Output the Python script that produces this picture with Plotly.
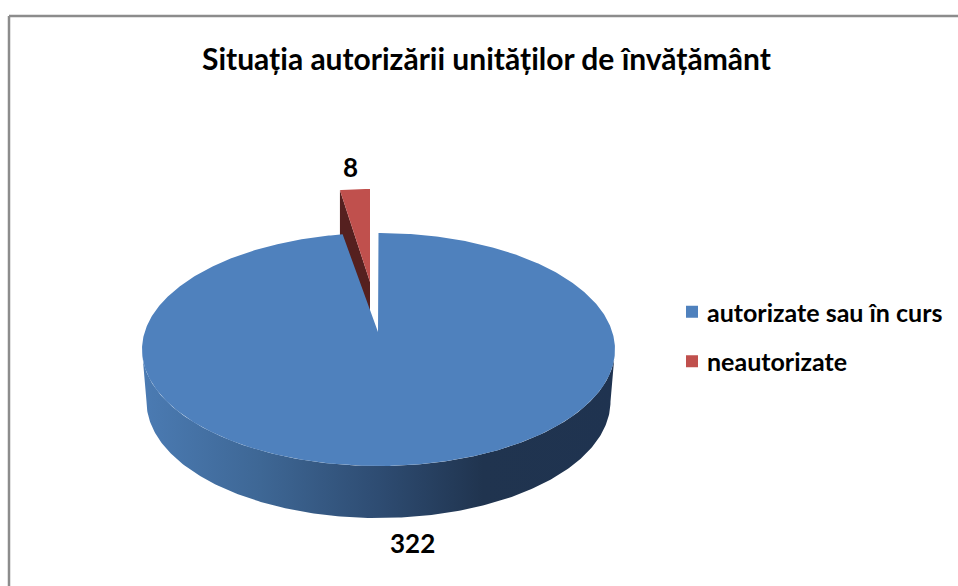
import numpy as np
import plotly.graph_objects as go

TITLE = "Situația autorizării unităților de învățământ"
categories = ["autorizate sau în curs", "neautorizate"]
values = [322, 8]
blue, red = "#4F81BD", "#C0504D"
FONT = "Lato"

W, H = 958, 586
total = sum(values)
sweep = [2 * np.pi * v / total for v in values]
blue_t = np.linspace(0, sweep[0], 720)
red_t = np.linspace(-sweep[1], 0, 20)
low_t = np.linspace(np.pi / 2, 3 * np.pi / 2, 240)


def ell(t, cx, cy, rx, ry):
    return cx + rx * np.sin(t), cy - ry * np.cos(t)


fig = go.Figure()
# blue side wall
tx, ty = ell(low_t, 378.5, 349.5, 236.5, 116.5)
bx, by = ell(low_t[::-1], 378.5, 401.5, 232, 116.5)
fig.add_trace(go.Scatter(
    x=np.r_[tx, bx], y=np.r_[ty, by], mode="lines", fill="toself", line=dict(width=0),
    fillgradient=dict(type="horizontal", colorscale=[
        [0, "#4B7BB3"], [0.25, "#3E6795"], [0.5, "#2E4C72"], [0.72, "#20344F"], [1, "#1F3350"]]),
    showlegend=False, hoverinfo="skip"))

# red exploded slice
rx_, ry_ = ell(red_t, 370, 287, 198, 98)
fig.add_trace(go.Scatter(
    x=np.r_[rx_[0], 370, 370, rx_[0]], y=np.r_[ry_[0], 282, 325, ry_[0] + 50],
    mode="lines", fill="toself", fillcolor="#55201F", line=dict(width=0),
    showlegend=False, hoverinfo="skip"))
fig.add_trace(go.Scatter(
    x=np.r_[370, rx_], y=np.r_[282, ry_], mode="lines", fill="toself", fillcolor=red,
    line=dict(width=0), showlegend=False, hoverinfo="skip"))

# blue top face
fx, fy = ell(blue_t, 378.5, 349.5, 236.5, 116.5)
fig.add_trace(go.Scatter(
    x=np.r_[378, fx, 378], y=np.r_[332, fy, 332], mode="lines", fill="toself", fillcolor=blue,
    line=dict(width=0), showlegend=False, hoverinfo="skip"))

# legend entries
for name, color in zip(categories, [blue, red]):
    fig.add_trace(go.Scatter(
        x=[None], y=[None], mode="markers", name=name, legendgroup=name,
        marker=dict(symbol="square", size=12, color=color, angle=90, standoff=5)))

ann = dict(showarrow=False, font=dict(family=FONT, size=26, color="#000000", weight="bold"),
           xref="x", yref="y")
fig.update_layout(
    autosize=True,
    margin=dict(l=0, r=0, t=0, b=0), paper_bgcolor="white", plot_bgcolor="white",
    xaxis=dict(range=[0, W], visible=False, fixedrange=True),
    yaxis=dict(range=[H, 0], visible=False, fixedrange=True),
    showlegend=True,
    legend=dict(x=667 / W, y=1 - 289 / H, xanchor="left", yanchor="top", tracegroupgap=14,
                bgcolor="rgba(0,0,0,0)",
                font=dict(family=FONT, size=25, color="#000000", weight="bold")),
    annotations=[
        dict(x=486, y=58, text=TITLE, **{**ann, "font": dict(family=FONT, size=30, color="#000000", weight="bold")}),
        dict(x=350, y=167, text=str(values[1]), **ann),
        dict(x=412, y=543, text=str(values[0]), **ann),
    ],
    shapes=[
        dict(type="line", x0=9, x1=W, y0=16, y1=16, xref="x", yref="y", line=dict(color="#8C8C8C", width=2.5)),
        dict(type="line", x0=9, x1=9, y0=16, y1=H, xref="x", yref="y", line=dict(color="#8C8C8C", width=2.5)),
    ],
)
fig.write_html("out.html", config={"displayModeBar": False},
               post_script="document.body.style.margin='0';document.documentElement.style.overflow='hidden';window.dispatchEvent(new Event('resize'));")
